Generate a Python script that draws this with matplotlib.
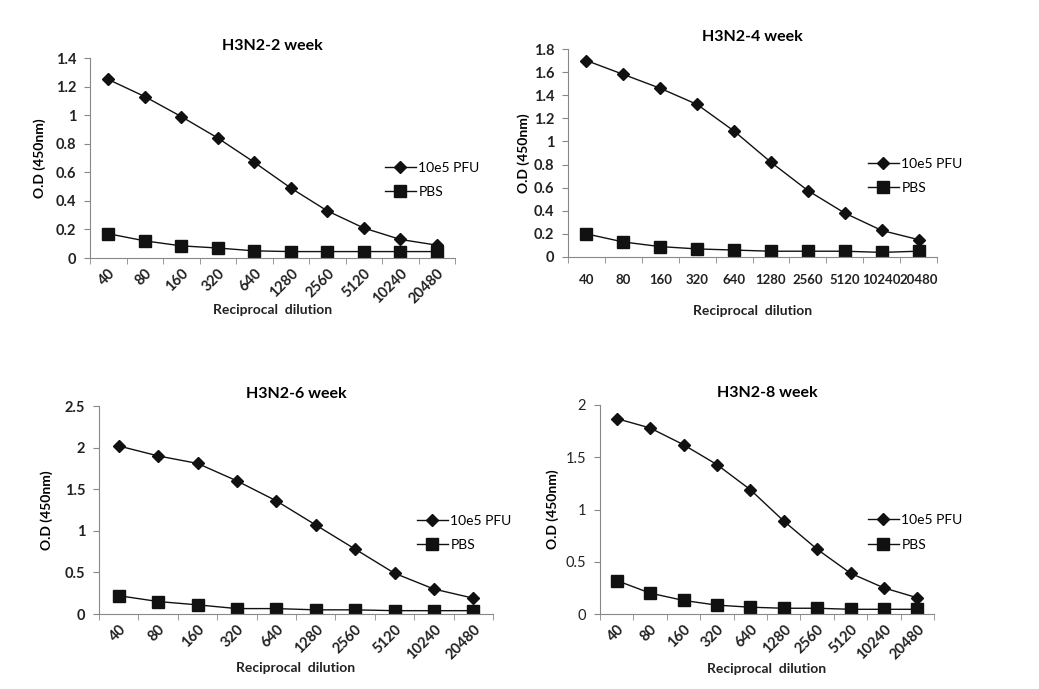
import matplotlib
matplotlib.use('Agg')
import matplotlib.pyplot as plt
from matplotlib.ticker import FixedLocator

plt.rcParams['font.family'] = ['Lato', 'DejaVu Sans']

dilutions = ['40', '80', '160', '320', '640', '1280', '2560', '5120', '10240', '20480']

# O.D (450nm) readings per time point
pfu_2w = [1.25, 1.13, 0.99, 0.84, 0.67, 0.49, 0.33, 0.21, 0.13, 0.09]
pbs_2w = [0.17, 0.12, 0.085, 0.07, 0.05, 0.045, 0.045, 0.045, 0.045, 0.045]

pfu_4w = [1.70, 1.58, 1.46, 1.32, 1.09, 0.82, 0.575, 0.38, 0.23, 0.15]
pbs_4w = [0.20, 0.13, 0.09, 0.07, 0.06, 0.05, 0.05, 0.05, 0.04, 0.05]

pfu_6w = [2.02, 1.90, 1.81, 1.60, 1.36, 1.07, 0.78, 0.49, 0.30, 0.19]
pbs_6w = [0.22, 0.15, 0.11, 0.065, 0.065, 0.05, 0.05, 0.04, 0.04, 0.04]

pfu_8w = [1.87, 1.78, 1.62, 1.43, 1.19, 0.89, 0.62, 0.39, 0.25, 0.155]
pbs_8w = [0.32, 0.20, 0.13, 0.085, 0.065, 0.055, 0.055, 0.045, 0.045, 0.045]

W, H = 1039, 689
fig = plt.figure(figsize=(W / 100, H / 100), dpi=100)


def px_axes(x0, y0, x1, y1):
    return fig.add_axes([x0 / W, 1 - y1 / H, (x1 - x0) / W, (y1 - y0) / H])


def panel(box, title, pfu, pbs, ymax, ystep, rotate, ylab_x, xlab_y, leg_x, ybold=True):
    ax = px_axes(*box)
    x = list(range(len(dilutions)))
    ax.plot(x, pfu, color='#111111', lw=1, marker='D', ms=6, label='10e5 PFU')
    ax.plot(x, pbs, color='#111111', lw=1, marker='s', ms=9, label='PBS')
    ax.set_xlim(-0.5, len(dilutions) - 0.5)
    ax.set_ylim(0, ymax)
    n = int(round(ymax / ystep))
    yt = [round(i * ystep, 2) for i in range(n + 1)]
    ax.set_yticks(yt)
    ax.set_yticklabels([f'{v:g}' for v in yt], fontsize=10.5,
                       fontweight='bold' if ybold else 'normal', color='#222222')
    ax.set_xticks(x)
    if rotate:
        ax.set_xticklabels(dilutions, rotation=45, ha='right', rotation_mode='anchor',
                           fontsize=10.5, fontweight='bold', color='#222222')
    else:
        ax.set_xticklabels(dilutions, fontsize=9.5, fontweight='bold', color='#222222')
    ax.xaxis.set_minor_locator(FixedLocator([i - 0.5 for i in range(len(dilutions) + 1)]))
    ax.tick_params(axis='x', which='major', length=0, pad=12 if not rotate else 6)
    ax.tick_params(axis='x', which='minor', length=4, color='#888888')
    ax.tick_params(axis='y', length=4, color='#888888', pad=6)
    for s in ['top', 'right']:
        ax.spines[s].set_visible(False)
    for s in ['left', 'bottom']:
        ax.spines[s].set_color('#888888')
    ax.set_title(title, fontsize=11.5, fontweight='bold', pad=6)
    x0, y0, x1, y1 = box
    fig.text(ylab_x / W, 1 - ((y0 + y1) / 2) / H, 'O.D (450nm)', rotation=90,
             ha='center', va='center', fontsize=10, fontweight='bold')
    fig.text(((x0 + x1) / 2) / W, 1 - xlab_y / H, 'Reciprocal  dilution',
             ha='center', va='center', fontsize=10, fontweight='bold', color='#222222')
    ax.legend(loc='center left', bbox_to_anchor=((leg_x - x0) / (x1 - x0), 0.39),
              frameon=False, fontsize=10, handlelength=2.2, handletextpad=0.2,
              labelspacing=0.9, borderaxespad=0, borderpad=0)
    return ax


panel((90, 58, 455, 258), 'H3N2-2 week', pfu_2w, pbs_2w, 1.4, 0.2, True, 40, 310, 385)
panel((568, 49, 937, 257), 'H3N2-4 week', pfu_4w, pbs_4w, 1.8, 0.2, False, 524, 311, 868)
panel((99, 406, 493, 614), 'H3N2-6 week', pfu_6w, pbs_6w, 2.5, 0.5, True, 47, 668, 417)
panel((600, 405, 934, 614), 'H3N2-8 week', pfu_8w, pbs_8w, 2.0, 0.5, True, 553, 669, 868, ybold=False)

fig.savefig('out.png', dpi=100)
